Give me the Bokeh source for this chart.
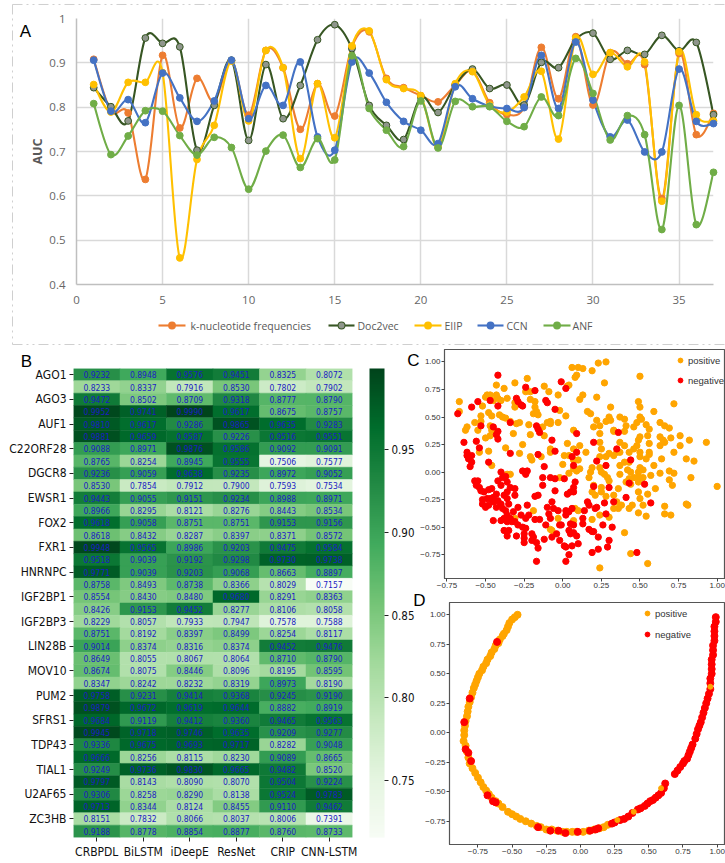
from bokeh.plotting import figure
from bokeh.embed import file_html
from bokeh.resources import INLINE
from bokeh.layouts import column, row
from bokeh.models import (ColumnDataSource, Range1d, FixedTicker, Legend, LegendItem,
                          LinearColorMapper, ColorBar, PrintfTickFormatter)
from bokeh.palettes import Greens256
from bokeh.core.properties import value

# ---------- Panel A data ----------
sample_index = list(range(1, 38))
kmer_auc = [.908,.791,.787,.637,.917,.753,.865,.812,.905,.782,.928,.889,.750,.853,.780,.936,.970,.865,.844,.826,.812,.850,.882,.810,.783,.800,.935,.819,.959,.805,.923,.898,.896,.594,.921,.738,.786]
doc2vec_auc = [.844,.801,.769,.956,.944,.936,.703,.804,.906,.725,.896,.774,.849,.952,.986,.932,.804,.759,.727,.823,.788,.850,.886,.842,.850,.805,.901,.889,.953,.967,.908,.928,.919,.962,.927,.946,.783]
eiip_auc = [.851,.789,.856,.856,.878,.460,.682,.759,.904,.769,.928,.889,.684,.853,.731,.938,.972,.862,.842,.826,.710,.853,.880,.805,.789,.823,.881,.728,.956,.874,.923,.891,.902,.588,.925,.783,.769]
ccn_auc = [.906,.791,.817,.765,.877,.821,.768,.814,.906,.774,.849,.804,.902,.733,.703,.902,.877,.811,.768,.748,.718,.846,.819,.802,.797,.799,.917,.797,.947,.816,.733,.771,.699,.699,.886,.768,.763]
anf_auc = [.808,.693,.735,.792,.791,.736,.692,.732,.709,.615,.701,.737,.664,.729,.681,.916,.797,.748,.711,.814,.708,.813,.801,.801,.768,.756,.823,.781,.910,.831,.726,.781,.738,.524,.804,.535,.653]
series_names = ["k-nucleotide frequencies", "Doc2vec", "EIIP", "CCN", "ANF"]

# ---------- Panel B data ----------
models = ["CRBPDL", "BiLSTM", "iDeepE", "ResNet", "CRIP", "CNN-LSTM"]
proteins = ["AGO1","AGO3","AUF1","C22ORF28","DGCR8","EWSR1","FOX2","FXR1","HNRNPC","IGF2BP1","IGF2BP3","LIN28B","MOV10","PUM2","SFRS1","TDP43","TIAL1","U2AF65","ZC3HB"]
auc_rows = [
[.9232,.8948,.9576,.9451,.8325,.8072],[.8233,.8337,.7916,.8530,.7802,.7902],
[.9472,.8502,.8709,.9318,.8777,.8790],[.9952,.9741,.9990,.9617,.8675,.8757],
[.9810,.9617,.9286,.9865,.9635,.9283],[.9881,.9659,.9587,.9226,.9516,.9551],
[.9088,.8971,.9876,.9586,.9092,.9091],[.8765,.8254,.8945,.9555,.7506,.7577],
[.9236,.9059,.9638,.9235,.8972,.9052],[.8530,.7854,.7912,.7900,.7593,.7534],
[.9443,.9055,.9151,.9234,.8988,.8971],[.8966,.8295,.8121,.8276,.8443,.8534],
[.9618,.9058,.8751,.8751,.9153,.9156],[.8618,.8432,.8287,.8397,.8371,.8572],
[.9948,.9565,.8986,.9203,.9475,.9584],[.9518,.9039,.9192,.9298,.9730,.9738],
[.9771,.9039,.9203,.9068,.8663,.8897],[.8758,.8493,.8738,.8366,.8029,.7157],
[.8554,.8430,.8480,.9680,.8291,.8363],[.8426,.9153,.9452,.8277,.8106,.8058],
[.8229,.8057,.7933,.7947,.7578,.7588],[.8751,.8192,.8397,.8499,.8254,.8117],
[.9014,.8374,.8316,.8374,.9452,.9476],[.8649,.8055,.8067,.8064,.8710,.8790],
[.8674,.8075,.8446,.8096,.8195,.8595],[.8347,.8242,.8232,.8319,.8973,.8190],
[.9758,.9231,.9414,.9368,.9245,.9190],[.9879,.9672,.9619,.9644,.8882,.8919],
[.9684,.9119,.9412,.9360,.9465,.9563],[.9945,.9718,.9746,.9635,.9209,.9277],
[.9336,.9675,.9693,.9717,.8282,.9048],[.9666,.8256,.8115,.8230,.9089,.8665],
[.9249,.9736,.9830,.9665,.9482,.8520],[.9797,.8143,.8090,.8070,.9504,.9224],
[.9306,.8258,.8290,.8138,.9524,.9783],[.9713,.8344,.8124,.8455,.9110,.9462],
[.8151,.7832,.8066,.8037,.8006,.7391],[.9188,.8778,.8854,.8877,.8760,.8733]]
colorbar_ticks = [.75,.80,.85,.90,.95]

# ---------- Panel C data ----------
c_pos_x = [.06,.10,.13,.19,.23,.28,.08,.09,.27,.50,.03,-.31,-.23,-.43,-.38,-.49,-.50,-.47,-.43,-.45,-.42,-.40,-.36,-.52,-.67,-.67,-.53,-.57,-.62,-.63,-.53,-.48,-.46,-.41,-.39,-.37,-.47,-.46,-.55,-.47,-.50,-.32,-.30,-.28,-.34,-.26,-.37,-.48,-.54,-.28,-.46,-.36,-.34,-.31,-.31,-.24,-.21,-.21,-.18,-.18,-.17,-.19,-.16,-.22,-.21,-.13,-.12,-.10,-.08,-.08,-.03,-.02,.02,-.12,-.09,-.03,.04,.11,.13,.22,.16,.18,.31,-.21,-.20,-.14,-.08,-.08,0,.03,.01,.07,.04,.07,.10,.07,.11,.15,.07,.11,.09,.04,-.02,
.20,.24,.22,.28,.30,.31,.33,.37,.40,.41,.40,.24,.33,.37,.24,.25,.24,.28,.30,.33,.35,.37,.40,.43,.46,.48,.50,.51,.54,.56,.55,.50,.49,.48,.46,.50,.50,.56,.56,.54,.56,.19,.18,.17,.24,.25,.27,.29,.30,.37,.40,.43,.42,.44,.37,.50,.52,.49,.52,.57,.49,.46,.43,.41,.44,.49,.59,.63,.64,.69,.72,.69,.71,.63,.63,.65,.66,.70,.63,.66,.69,.76,.76,.72,.80,.85,.82,.93,.83,1.0,.49,.50,.55,.60,.36,.25,.25,.19,.20,.21,.28,.33,.35,.36,.38,.45,.43,.49,.52,.54,.66,.66,.70,.80,.81,.40,.44,.55,.24,.33,.30,.24,.19,.08,.10,.07,-.03,-.19,-.31,-.07,-.08,.49,.50,.59,.72]
c_pos_y = [.95,.95,.94,.92,.99,1.0,.86,.88,.81,.87,.78,.81,.85,.79,.76,.70,.68,.70,.70,.65,.67,.65,.67,.60,.64,.55,.51,.45,.41,.38,.46,.54,.51,.52,.50,.49,.42,.38,.38,.33,.31,.35,.44,.45,.46,.25,.22,.19,.18,.17,.06,-.02,-.02,.63,.59,.73,.73,.66,.64,.59,.55,.53,.52,.43,.34,.41,.33,.45,.44,.46,.45,.56,.51,.78,.73,.70,.79,.66,.70,.68,.55,.53,.59,.14,.11,.14,.21,.18,.07,.26,.15,.38,.15,.11,.11,.21,.24,.18,.03,.03,.01,-.01,-.05,
.41,.42,.47,.46,.50,.47,.38,.50,.48,.42,.37,.35,.37,.27,.27,.21,.14,.14,.17,.15,.18,.18,.24,.18,.41,.45,.50,.48,.43,.39,.33,.32,.29,.24,.21,.18,.14,.26,.18,.12,.16,.04,0,-.05,.04,0,-.02,-.05,-.08,.06,.09,.09,.02,0,-.02,.04,.02,0,-.05,-.03,-.04,-.05,-.06,-.09,-.11,-.09,.06,-.01,.12,.01,-.01,-.07,-.12,.24,.32,.29,.27,.31,.45,.42,.40,.33,.24,.18,.12,.10,.29,.27,-.05,-.13,-.18,-.24,-.20,-.15,-.15,-.14,-.18,-.18,-.12,-.21,-.22,-.21,-.27,-.33,-.30,-.30,-.33,-.37,-.30,-.40,-.31,-.38,-.39,-.29,-.30,-.55,-.74,-.83,-.87,-.33,-.41,-.39,-.43,-.33,-.35,-.44,-.42,-.35,-.42,-.53,-.52,.64,.59,.55,.62]
c_neg_x = [-.42,-.01,.02,-.24,-.18,-.30,-.29,-.27,-.26,-.47,-.42,-.55,-.59,-.68,-.34,-.11,-.10,-.05,-.17,-.16,-.15,-.45,-.53,-.42,-.43,-.42,-.64,-.56,-.54,-.62,-.62,-.59,-.61,-.59,-.60,-.48,-.34,-.16,-.12,-.07,-.05,.09,.20,.09,.06,.07,.22,.28,.35,.36,.44,.53,.43,.41,.33,.27,.57,.30,.20,.48,
-.57,-.55,-.56,-.54,-.53,-.51,-.48,-.46,-.40,-.39,-.37,-.36,-.42,-.40,-.34,-.31,-.31,-.38,-.36,-.43,-.45,-.47,-.49,-.52,-.52,-.50,-.48,-.45,-.42,-.40,-.43,-.39,-.36,-.35,-.37,-.36,-.38,-.45,-.40,-.36,-.34,-.33,-.31,-.29,-.26,-.24,-.32,-.29,-.23,-.22,-.24,-.27,-.38,-.35,-.36,-.30,-.25,-.25,-.25,-.20,-.19,-.20,-.17,-.16,-.12,-.17,-.15,-.18,-.11,-.08,-.09,-.10,-.06,-.03,.02,.02,.04,-.02,-.01,.05,.07,.04,.05,.07,.06,.10,-.07,-.04,-.02,.01,.02,.04,.02,.19,.23,.29,.30,.23,.20,.17,.19,.09,.06,.07,.05,.03,.07,.08,.01,-.05,-.08,-.13,-.13,-.05,-.07,-.18,-.16,-.26,-.23,-.24,.13,.13,.16,.17,.14,.21,.22,.26,.28,.32]
c_neg_y = [.88,.82,.76,.77,.74,.67,.64,.61,.60,.65,.60,.64,.59,.53,.45,.65,.63,.57,.42,.39,.36,.41,.42,.37,.34,.30,.27,.28,.22,.18,.15,.15,.12,.09,.05,.09,.17,.16,.05,.29,.19,.35,.27,.18,.14,.06,.10,.06,.21,.36,.11,-.11,-.10,-.23,-.27,-.28,-.28,-.14,-.13,-.73,
-.08,-.08,-.12,-.14,-.17,-.18,-.16,-.15,0,-.05,-.04,-.09,-.08,-.12,-.14,-.15,-.21,-.21,-.18,-.20,-.23,-.24,-.24,-.25,-.29,-.32,-.30,-.27,-.26,-.29,-.32,-.33,-.24,-.29,-.35,-.39,-.42,-.44,-.44,-.45,-.42,-.45,-.45,-.48,-.50,-.51,-.36,-.32,-.30,-.39,-.42,-.39,-.53,-.53,-.58,-.58,-.56,-.60,-.64,-.56,-.59,-.62,-.64,-.69,-.61,-.81,-.43,-.43,-.48,-.42,-.38,-.32,-.33,-.35,-.35,-.39,-.36,-.48,-.48,-.47,-.48,-.53,-.56,-.55,-.67,-.65,-.59,-.56,-.62,-.67,-.68,-.75,-.81,-.73,-.70,-.68,-.62,-.59,-.54,-.52,-.54,-.58,-.33,-.18,-.18,-.20,-.14,-.09,-.06,-.06,-.05,-.05,-.12,-.17,-.27,-.22,-.21,.01,.01,-.02,-.42,-.47,-.27,-.30,-.35,-.33,-.32,-.48,-.38,-.50]

# ---------- Panel D data ----------
d_pos_x = [-.46,-.48,-.50,-.52,-.53,-.54,-.56,-.57,-.59,-.60,-.62,-.63,-.65,-.66,-.68,-.69,-.71,-.72,-.74,-.75,-.76,-.77,-.78,-.79,-.80,-.81,-.82,-.825,-.83,-.84,-.845,-.85,-.85,-.855,-.84,-.83,-.82,-.81,-.79,-.77,-.75,-.73,-.71,-.69,-.67,-.65,-.62,-.60,-.57,-.53,-.50,-.47,-.44,-.40,-.36,-.32,-.29,-.25,-.21,-.17,-.13,-.10,-.06,-.03,.02,.06,.10,.14,.17,.20]
d_pos_y = [1.0,.98,.96,.93,.90,.87,.84,.82,.79,.76,.74,.71,.68,.65,.62,.59,.56,.53,.50,.47,.44,.41,.38,.34,.30,.26,.22,.18,.14,.10,.06,.02,-.02,-.07,-.11,-.16,-.21,-.26,-.30,-.34,-.38,-.42,-.46,-.49,-.52,-.55,-.58,-.60,-.63,-.67,-.69,-.71,-.73,-.75,-.77,-.79,-.80,-.82,-.82,-.83,-.84,-.84,-.84,-.84,-.84,-.83,-.82,-.81,-.80,-.78]
d_neg_x = [-.61,-.81,-.85,-.84,-.82,-.80,-.68,-.64,-.62,-.31,-.22,-.16,-.11,-.02,.07,.11,.13,.23,.25,.29,.32,.35,.38,.42,.44,.47,.49,.51,.53,.55,.57,.59,.61,.62,.69,.71,.73,.75,.76,.78,.79,.80,.81,.82,.84,.85,.86,.87,.88,.89,.90,.91,.92,.93,.94,.95,.95,.95,.96,.96,.96,.96,.97,.97,.97,.98,.98,.98,.98,.99,.99]
d_neg_y = [.77,.29,.09,-.14,-.17,-.24,-.53,-.58,-.59,-.80,-.83,-.83,-.85,-.84,-.83,-.82,-.81,-.77,-.76,-.74,-.73,-.71,-.68,-.65,-.64,-.62,-.60,-.58,-.57,-.55,-.53,-.51,-.47,-.43,-.35,-.32,-.29,-.26,-.24,-.22,-.19,-.16,-.13,-.10,-.05,-.01,.03,.06,.09,.13,.17,.21,.25,.29,.33,.37,.42,.46,.50,.54,.58,.62,.66,.70,.74,.78,.82,.86,.90,.94,.98]
d_late_pos_x = [.27,.39,.59,.95]
d_late_pos_y = [-.74,-.67,-.47,.39]

scatter_ticks = [-.75,-.5,-.25,0,.25,.5,.75,1.0]
scatter_tick_labels = {t: (f"{t:.2f}".replace("-", "\u2212")) for t in scatter_ticks}

NARROW = "DejaVu Sans Condensed"
LETTER = "Liberation Sans"

# ---------- Panel A ----------
pA = figure(width=725, height=345, output_backend="svg", toolbar_location=None,
            x_range=Range1d(0, 37), y_range=Range1d(.4, 1),
            min_border_left=76, min_border_right=12, min_border_top=18, min_border_bottom=61)
pA.outline_line_color = None
pA.xaxis.ticker = FixedTicker(ticks=[0, 5, 10, 15, 20, 25, 30, 35])
pA.yaxis.ticker = FixedTicker(ticks=[.4, .5, .6, .7, .8, .9, 1])
pA.yaxis.major_label_overrides = {.4: "0.4", .5: "0.5", .6: "0.6", .7: "0.7", .8: "0.8", .9: "0.9", 1: "1"}
for ax in (pA.xaxis[0], pA.yaxis[0]):
    ax.axis_line_color = "#bfbfbf"
    ax.axis_line_width = 1.5
    ax.major_tick_line_color = None
    ax.minor_tick_line_color = None
    ax.major_label_text_font = "Open Sans"
    ax.major_label_text_font_size = "11.5px"
    ax.major_label_text_color = "#666666"
    ax.major_label_standoff = 5
pA.yaxis.axis_label = "AUC"
pA.yaxis.axis_label_text_font = "Open Sans"
pA.yaxis.axis_label_text_font_style = "bold"
pA.yaxis.axis_label_text_font_size = "12.5px"
pA.yaxis.axis_label_text_color = "#595959"
pA.yaxis.axis_label_standoff = 0
pA.xgrid.ticker = FixedTicker(ticks=[5, 10, 15, 20, 25, 30, 35])
pA.ygrid.ticker = FixedTicker(ticks=[.5, .6, .7, .8, .9, 1])
pA.xgrid.grid_line_color = "#d9d9d9"
pA.ygrid.grid_line_color = "#d9d9d9"
pA.xgrid.grid_line_width = 1.5
pA.ygrid.grid_line_width = 1.5


def bezier_source(xs, ys):
    """Excel-style smoothed segments between the read values (control points only)."""
    n = len(xs)
    d = dict(x0=[], y0=[], x1=[], y1=[], cx0=[], cy0=[], cx1=[], cy1=[])
    for i in range(n - 1):
        pm = max(i - 1, 0)
        pp = min(i + 2, n - 1)
        d["x0"].append(xs[i]); d["y0"].append(ys[i])
        d["x1"].append(xs[i + 1]); d["y1"].append(ys[i + 1])
        d["cx0"].append(xs[i] + (xs[i + 1] - xs[pm]) / 6)
        d["cy0"].append(ys[i] + (ys[i + 1] - ys[pm]) / 6)
        d["cx1"].append(xs[i + 1] - (xs[pp] - xs[i]) / 6)
        d["cy1"].append(ys[i + 1] - (ys[pp] - ys[i]) / 6)
    return ColumnDataSource(d)


def px_a(px, py):
    return (px - 76) / 17.216, .4 + (284 - py) / 443.3


styles = [("#ed7d31", "#ed7d31", "#ed7d31"), ("#375623", "#8f968c", "#375623"),
          ("#ffc000", "#ffc000", "#ffc000"), ("#4472c4", "#4472c4", "#4472c4"),
          ("#70ad47", "#70ad47", "#70ad47")]
legend_slots = [(158, 185, 190), (328, 354, 357), (414, 441, 444), (477, 503, 506), (543, 570, 572)]
for name, vals, (lc, fc, oc), (g0, g1, tx) in zip(series_names, [kmer_auc, doc2vec_auc, eiip_auc, ccn_auc, anf_auc], styles, legend_slots):
    pA.bezier(x0="x0", y0="y0", x1="x1", y1="y1", cx0="cx0", cy0="cy0", cx1="cx1", cy1="cy1",
              source=bezier_source(sample_index, vals), line_color=lc, line_width=2.1)
    pA.scatter(sample_index, vals, size=6.8, fill_color=fc, line_color=oc, line_width=1, level="overlay")
    # legend row below the axis (round-capped stubs: markers outside the range are culled)
    lx0, ly = px_a(g0, 325)
    lx1, _ = px_a(g1, 325)
    lxm = (lx0 + lx1) / 2
    pA.segment([lx0], [ly], [lx1], [ly], line_color=lc, line_width=2.1, level="overlay")
    pA.segment([lxm], [ly], [lxm + .002], [ly], line_color=oc, line_width=7.8, line_cap="round", level="overlay")
    pA.segment([lxm], [ly], [lxm + .002], [ly], line_color=fc, line_width=5.8, line_cap="round", level="overlay")
    ltx, _ = px_a(tx, 325)
    pA.text([ltx], [ly], text=[name], text_align="left", text_baseline="middle", text_font=value("Open Sans"),
            text_font_size="10.5px", text_color="#595959", level="overlay")

# dash-dot panel frame, drawn unclipped above the plot area
fx0, fy0 = px_a(12, 4)
fx1, fy1 = px_a(730, 344)
pA.segment([fx0, fx0, fx0], [fy0, fy0, fy1], [fx1, fx0, fx1], [fy0, fy1, fy1], line_color="#cfcfcf", line_width=1,
           line_dash="10 4 2 4 2 4", level="overlay")
ax0, ay0 = px_a(25, 31)
pA.text([ax0], [ay0], text=["A"], text_align="center", text_baseline="middle", text_font=value(LETTER),
        text_font_size="17px", text_color="#000000", level="overlay")

# ---------- Panel B ----------
mapper = LinearColorMapper(palette=list(Greens256)[::-1], low=.7157, high=.9990)
cx, cy, cv, ct = [], [], [], []
for r, rowvals in enumerate(auc_rows):
    for c, v in enumerate(rowvals):
        cx.append(c + .5); cy.append(r + .5); cv.append(v); ct.append(f"{v:.4f}")
srcB = ColumnDataSource(dict(x=cx, y=cy, v=cv, t=ct))
pB = figure(width=432, height=518, output_backend="svg", toolbar_location=None,
            x_range=Range1d(0, 6), y_range=Range1d(38, 0),
            min_border_left=73, min_border_right=80, min_border_top=23, min_border_bottom=26,
            margin=(0, -18, 0, 0))
pB.outline_line_color = None
pB.grid.visible = False
color_spec = {"field": "v", "transform": mapper}
pB.rect("x", "y", width=1, height=1, source=srcB, fill_color=color_spec, line_color=color_spec, line_width=.5)
pB.text("x", "y", text="t", source=srcB, text_align="center", text_baseline="middle", text_color="#1c1cc4",
        text_font=value(NARROW), text_font_size="8.5px")
pB.xaxis.ticker = FixedTicker(ticks=[i + .5 for i in range(6)])
pB.xaxis.major_label_overrides = {i + .5: m for i, m in enumerate(models)}
pB.yaxis.ticker = FixedTicker(ticks=[2 * i + .5 for i in range(19)])
pB.yaxis.major_label_overrides = {2 * i + .5: m for i, m in enumerate(proteins)}
for ax in (pB.xaxis[0], pB.yaxis[0]):
    ax.axis_line_color = None
    ax.major_tick_in = 0
    ax.major_tick_out = 4
    ax.major_tick_line_color = "#222222"
    ax.minor_tick_line_color = None
    ax.major_label_text_font = NARROW
    ax.major_label_text_font_size = "12px"
    ax.major_label_text_color = "#111111"
    ax.major_label_standoff = 3
cb = ColorBar(color_mapper=mapper, ticker=FixedTicker(ticks=colorbar_ticks), formatter=PrintfTickFormatter(format="%.2f"),
              width=15, height=469, location=(296, 0), padding=0, margin=0, major_tick_in=0, major_tick_out=4,
              major_tick_line_color="#222222", bar_line_color=None, border_line_color=None, background_fill_alpha=0,
              major_label_text_font=NARROW, major_label_text_font_size="11.5px", major_label_text_color="#111111",
              label_standoff=3)
pB.add_layout(cb)
letters_x = [(26 - 73) / 46.5, (413 - 73) / 46.5, (419 - 73) / 46.5]
letters_y = [(361 - 368) / 12.34, (360 - 368) / 12.34, (600 - 368) / 12.34]
pB.text(letters_x, letters_y, text=["B", "C", "D"], text_align="center", text_baseline="middle",
        text_font=value(LETTER), text_font_size="17px", text_color="#000000", level="overlay")


# ---------- Panels C and D ----------
def scatter_fig(w, h, bt, bb, xr, yr, ml):
    p = figure(width=w, height=h, output_backend="svg", toolbar_location=None, x_range=xr, y_range=yr,
               min_border_left=30, min_border_right=0, min_border_top=bt, min_border_bottom=bb,
               margin=(0, 0, 0, ml))
    p.grid.visible = False
    p.border_fill_color = None
    p.outline_line_color = "#555555"
    p.outline_line_width = 1.2
    for ax in (p.xaxis[0], p.yaxis[0]):
        ax.ticker = FixedTicker(ticks=scatter_ticks)
        ax.major_label_overrides = scatter_tick_labels
        ax.axis_line_color = "#555555"
        ax.major_tick_in = 0
        ax.major_tick_out = 3
        ax.minor_tick_line_color = None
        ax.major_tick_line_color = "#444444"
        ax.major_label_text_font = "Liberation Sans"
        ax.major_label_text_font_size = "8px"
        ax.major_label_text_color = "#333333"
        ax.major_label_standoff = 1
    return p


def add_legend(p, rp, rn, x, y, sp):
    p.add_layout(Legend(items=[LegendItem(label="positive", renderers=[rp]), LegendItem(label="negative", renderers=[rn])],
                        location=(x, y), border_line_color=None, background_fill_alpha=0, padding=0, margin=0,
                        glyph_width=12, glyph_height=12, label_standoff=2, spacing=sp, label_text_font="Liberation Sans",
                        label_text_font_size="9.5px", label_text_color="#333333"))


ORANGE, RED = "#ffa500", "#ff0000"
pC = scatter_fig(311, 246, 4, 13, Range1d(-.766, 1.054), Range1d(-.966, 1.113), 0)
rp = pC.scatter(c_pos_x, c_pos_y, size=6.3, color=ORANGE)
rn = pC.scatter(c_neg_x, c_neg_y, size=6.3, color=RED)
add_legend(pC, rp, rn, 230, 192, 8)

pD = scatter_fig(306, 272, 11, 19, Range1d(-.958, 1.061), Range1d(-.947, 1.104), 5)
rp = pD.scatter(d_pos_x, d_pos_y, size=7, color=ORANGE)
rn = pD.scatter(d_neg_x, d_neg_y, size=7, color=RED)
pD.scatter(d_late_pos_x, d_late_pos_y, size=5, color=ORANGE)
add_legend(pD, rp, rn, 192, 204, 9)

right_col = column(pC, pD, spacing=0)
layout = column(pA, row(pB, right_col, spacing=0), spacing=0)
open("out.html", "w").write(file_html(layout, INLINE))
